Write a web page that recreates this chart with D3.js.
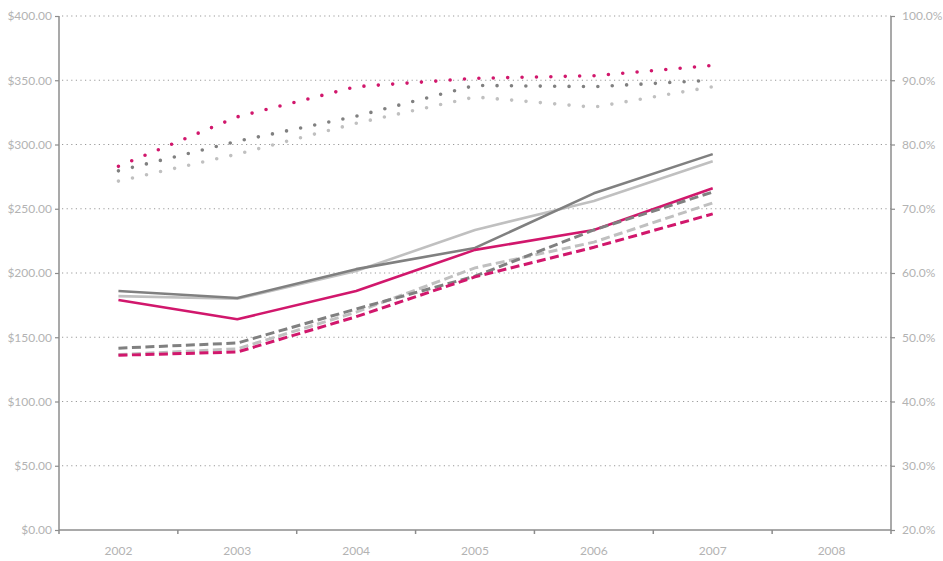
<!DOCTYPE html>
<html>
<head>
<meta charset="utf-8">
<script src="https://cdn.jsdelivr.net/npm/d3@7"></script>
<style>
  html, body { margin: 0; padding: 0; background: #fff; }
  text { font-family: Lato, "Open Sans", sans-serif; }
</style>
</head>
<body>
<svg id="chart" width="943" height="561"></svg>
<script>
const categories = ["2002", "2003", "2004", "2005", "2006", "2007", "2008"];
const dataYears = ["2002", "2003", "2004", "2005", "2006", "2007"];

// Left axis ($) series
const solidDark    = [186, 180.5, 203, 219.5, 262, 292.5];
const solidLight   = [182, 180, 201.5, 233.5, 256, 287];
const solidMagenta = [179, 164, 186, 218, 233.5, 266];
const dashDark     = [141.5, 145.5, 172, 197.5, 233.5, 263];
const dashLight    = [136.5, 141, 169.5, 204, 224, 254.5];
const dashMagenta  = [136, 138.5, 166, 197, 220, 246];

// Right axis (%) series
const dotMagenta = [76.6, 84.3, 89.0, 90.3, 90.7, 92.3];
const dotDark    = [75.9, 80.5, 84.4, 89.2, 89.0, 90.0];
const dotLight   = [74.3, 78.5, 83.3, 87.4, 85.8, 89.0];

const leftTicks = [0, 50, 100, 150, 200, 250, 300, 350, 400];
const rightTicks = [20, 30, 40, 50, 60, 70, 80, 90, 100];

const colDark = "#808080", colLight = "#c0c0c0", colMag = "#d1176c";

const svg = d3.select("#chart");
const L = 59, R = 891, T = 16, B = 530;

const x = d3.scaleBand().domain(categories).range([L, R]).padding(0);
const yL = d3.scaleLinear().domain([0, 400]).range([B, T]);
const yR = d3.scaleLinear().domain([20, 100]).range([B, T]);

// gridlines
svg.append("g").selectAll("line").data(leftTicks.slice(1)).join("line")
  .attr("x1", L + 3).attr("x2", R)
  .attr("y1", d => yL(d)).attr("y2", d => yL(d))
  .attr("stroke", "#9a9a9a").attr("stroke-width", 1.2)
  .attr("stroke-dasharray", "1.2,3.4");

const axisColor = "#8c8c8c";
const labelColor = "#b3b3b3";

// left axis
const gL = svg.append("g").attr("transform", `translate(${L},0)`)
  .call(d3.axisLeft(yL).tickValues(leftTicks).tickSize(4).tickPadding(3)
    .tickFormat(d => "$" + d3.format(".2f")(d)));
// right axis
const gR = svg.append("g").attr("transform", `translate(${R},0)`)
  .call(d3.axisRight(yR).tickValues(rightTicks).tickSize(4).tickPadding(7)
    .tickFormat(d => d3.format(".1f")(d) + "%"));
// bottom axis
const gB = svg.append("g").attr("transform", `translate(0,${B})`)
  .call(d3.axisBottom(x).tickSize(0).tickPadding(16));
// boundary ticks on bottom axis
svg.append("g").selectAll("line").data(d3.range(categories.length + 1)).join("line")
  .attr("x1", i => L + i * x.bandwidth()).attr("x2", i => L + i * x.bandwidth())
  .attr("y1", B).attr("y2", B + 4)
  .attr("stroke", axisColor).attr("stroke-width", 1.5);

[gL, gR, gB].forEach(g => {
  g.select(".domain").attr("stroke", axisColor).attr("stroke-width", 1.5);
  g.selectAll(".tick line").attr("stroke", axisColor).attr("stroke-width", 1.2);
  g.selectAll("text").attr("fill", labelColor).attr("font-size", 12)
    .attr("font-family", "Lato, 'Open Sans', sans-serif");
});
gL.select(".domain").attr("d", `M0,${T}V${B}`);
gR.select(".domain").attr("d", `M0,${T}V${B}`);
gB.select(".domain").attr("d", `M${L},0H${R}`);

const cx = d => x(d) + x.bandwidth() / 2;

function drawLine(values, yScale, color, style) {
  const line = d3.line().x((d, i) => cx(dataYears[i])).y(d => yScale(d));
  const p = svg.append("path").datum(values)
    .attr("d", line).attr("fill", "none").attr("stroke", color);
  if (style === "solid") {
    p.attr("stroke-width", 2.6).attr("stroke-linejoin", "round");
  } else if (style === "dash") {
    p.attr("stroke-width", 3).attr("stroke-dasharray", "9,4.5");
  } else {
    p.attr("stroke-width", 3.6).attr("stroke-linecap", "round")
     .attr("stroke-dasharray", "0,14.4");
  }
}

drawLine(solidLight, yL, colLight, "solid");
drawLine(solidDark, yL, colDark, "solid");
drawLine(solidMagenta, yL, colMag, "solid");
drawLine(dashLight, yL, colLight, "dash");
drawLine(dashDark, yL, colDark, "dash");
drawLine(dashMagenta, yL, colMag, "dash");
drawLine(dotLight, yR, colLight, "dot");
drawLine(dotDark, yR, colDark, "dot");
drawLine(dotMagenta, yR, colMag, "dot");
</script>
</body>
</html>
